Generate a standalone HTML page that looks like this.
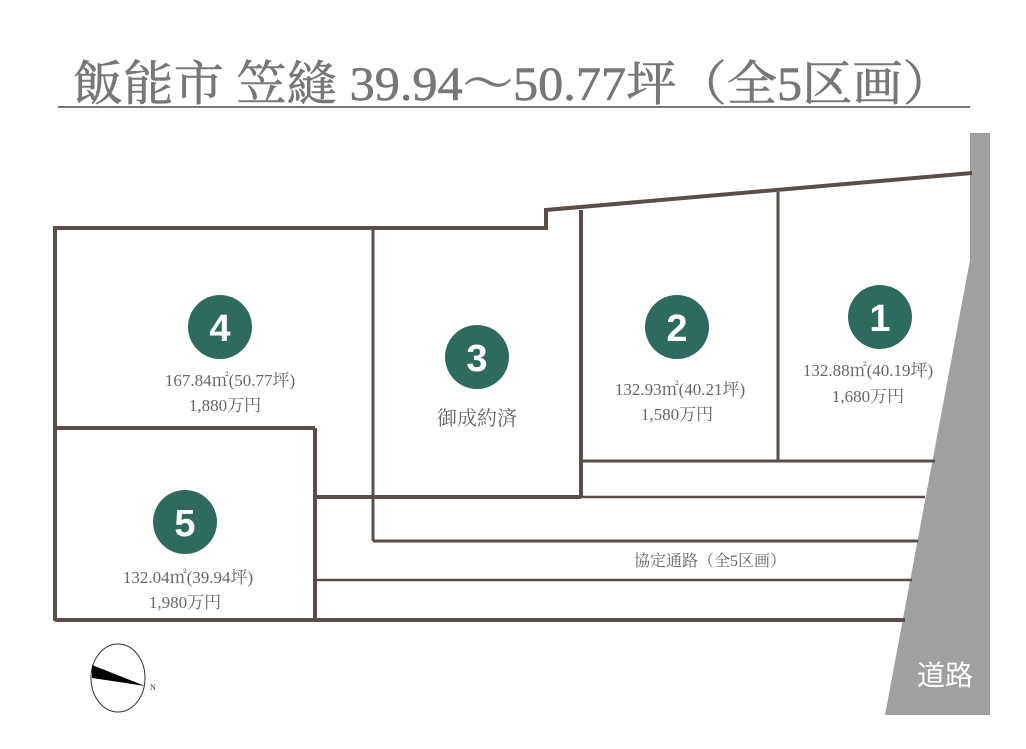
<!DOCTYPE html>
<html><head><meta charset="utf-8"><style>
body{margin:0;background:#fff;}
svg{display:block;}
text{font-family:"Liberation Serif","Noto Serif CJK SC",serif;fill:#666;}
text.n{font-family:"Liberation Sans",sans-serif;font-weight:bold;fill:#fff;}
</style></head><body>
<svg width="1026" height="749" viewBox="0 0 1026 749">
<text x="513" y="100" text-anchor="middle" font-size="48" style="fill:#777;stroke:#777;stroke-width:0.6" textLength="880" lengthAdjust="spacingAndGlyphs">飯能市 笠縫 39.94～50.77坪（全5区画）</text>
<line x1="58" y1="107" x2="970" y2="107" stroke="#777" stroke-width="2"/>
<polygon points="970,133 990,133 990,715 885,715 970,260" fill="#a0a0a0"/>
<text x="945" y="685" text-anchor="middle" font-size="28" style="fill:#fff;font-family:'Liberation Sans','Noto Sans CJK JP',sans-serif">道路</text>
<g stroke="#5a4e4a" fill="none">
<polyline points="55,621 55,228 546,228 546,210 972,173" stroke-width="4"/>
<line x1="55" y1="428" x2="315" y2="428" stroke-width="4"/>
<polyline points="315,428 315,620" stroke-width="4"/>
<line x1="55" y1="620" x2="905" y2="620" stroke-width="4"/>
<line x1="373" y1="228" x2="373" y2="541" stroke-width="3"/>
<line x1="581" y1="210" x2="581" y2="497" stroke-width="4"/>
<line x1="315" y1="497" x2="581" y2="497" stroke-width="4"/>
<line x1="581" y1="497" x2="925" y2="497" stroke-width="2.5"/>
<line x1="778" y1="192" x2="778" y2="461" stroke-width="3"/>
<line x1="581" y1="461" x2="935" y2="461" stroke-width="3"/>
<line x1="373" y1="541" x2="918" y2="541" stroke-width="3"/>
<line x1="315" y1="580" x2="912" y2="580" stroke-width="2.5"/>
</g>
<g fill="#2e6b5e">
<circle cx="220" cy="327" r="32"/><circle cx="477" cy="357" r="32"/><circle cx="677" cy="327" r="32"/><circle cx="880" cy="317" r="32"/><circle cx="185" cy="522" r="32"/>
</g>
<g font-size="38" text-anchor="middle">
<text class="n" x="220" y="341">4</text><text class="n" x="477" y="371">3</text><text class="n" x="677" y="341">2</text><text class="n" x="880" y="331">1</text><text class="n" x="185" y="536">5</text>
</g>
<g font-size="17" text-anchor="middle">
<text x="230" y="386">167.84㎡(50.77坪)</text><text x="225" y="411">1,880万円</text>
<text x="477" y="425" font-size="20">御成約済</text>
<text x="680" y="395">132.93㎡(40.21坪)</text><text x="677" y="420">1,580万円</text>
<text x="868" y="376">132.88㎡(40.19坪)</text><text x="868" y="402">1,680万円</text>
<text x="188" y="583">132.04㎡(39.94坪)</text><text x="185" y="608">1,980万円</text>
<text x="710" y="566" font-size="16">協定通路（全5区画）</text>
</g>
<ellipse cx="118" cy="678" rx="27" ry="34" fill="none" stroke="#333" stroke-width="1"/>
<polygon points="92,665 145,686 92,678" fill="#000"/>
<text x="150" y="690" font-size="8" style="fill:#333">N</text>
</svg>
</body></html>
